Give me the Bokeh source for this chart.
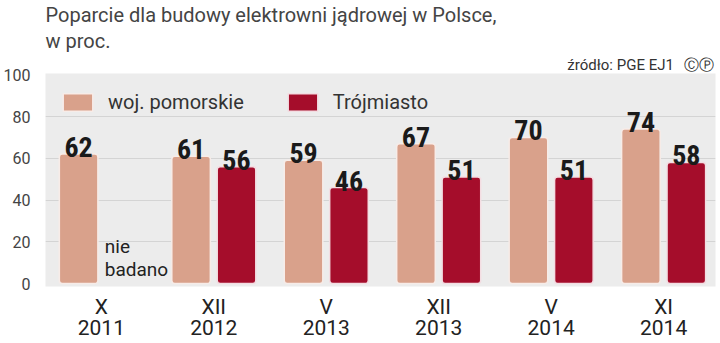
from bokeh.plotting import figure
from bokeh.models import (ColumnDataSource, FixedTicker, Legend, LegendItem, Range1d,
                          Title, LinearAxis)
from bokeh.core.properties import value
from bokeh.embed import file_html
from bokeh.resources import INLINE

# ---- data ----
periods = ["X\n2011", "XII\n2012", "V\n2013", "XII\n2013", "V\n2014", "XI\n2014"]
pomorskie = [62, 61, 59, 67, 70, 74]
trojmiasto = [None, 56, 46, 51, 51, 58]
series_names = ["woj. pomorskie", "Trójmiasto"]
title_line1 = "Poparcie dla budowy elektrowni jądrowej w Polsce,"
title_line2 = "w proc."
source_text = "źródło: PGE EJ1"
licence_marks = "ⒸⓅ"
not_surveyed = "nie\nbadano"
y_ticks = [0, 20, 40, 60, 80, 100]

PINK = "#d9a18b"
RED = "#a50d2b"
FONT = "Roboto"
NUMFONT = "Liberation Sans Narrow, Roboto Condensed, Roboto"

W, H = 720, 343
FL, FR, FB = 37, 715, 288   # frame edges in px

xs = list(range(len(periods)))
off = 0.202
bw = 0.343
gap_px = 113.8
x0 = -0.4965
x1 = x0 + (FR - FL) / gap_px


def px_to_x(px):
    return x0 + (px - FL) / gap_px


p = figure(width=W, height=H, output_backend="svg", toolbar_location=None,
           x_range=Range1d(x0, x1), y_range=Range1d(-1.4, 100.6),
           min_border_left=FL, min_border_right=W - FR,
           min_border_top=0, min_border_bottom=H - FB)
p.outline_line_color = None
p.background_fill_color = "#ececec"
p.border_fill_color = "white"

pink_src = ColumnDataSource(dict(x=[v - off for v in xs], top=pomorskie,
                                 lab=[str(v) for v in pomorskie]))
rx = [x + off for x, v in zip(xs, trojmiasto) if v is not None]
rv = [v for v in trojmiasto if v is not None]
red_src = ColumnDataSource(dict(x=rx, top=rv, lab=[str(v) for v in rv]))

r1 = p.vbar(x="x", top="top", bottom=0, width=bw, source=pink_src, fill_color=PINK,
            line_color="#f7ece8", line_width=1.5, border_radius=3)
r2 = p.vbar(x="x", top="top", bottom=0, width=bw, source=red_src, fill_color=RED,
            line_color="#f3dde2", line_width=1.5, border_radius=3)

for src in (pink_src, red_src):
    p.text(x="x", y="top", text="lab", source=src, text_align="center",
           text_baseline="alphabetic", y_offset=-7, text_font=value(NUMFONT),
           text_font_style="bold", text_font_size="28px", text_color="#1a1a1a")

# "nie badano"
p.text(x=[xs[0] + off - bw / 2], y=[1.0], text=[not_surveyed], text_align="left",
       text_baseline="bottom", text_font=value(FONT), text_font_size="19px",
       text_color="#222222", text_line_height=1.0)

# axes
p.yaxis.ticker = FixedTicker(ticks=y_ticks)
p.yaxis.axis_line_color = None
p.yaxis.major_tick_line_color = None
p.yaxis.minor_tick_line_color = None
p.yaxis.major_label_standoff = 9
p.yaxis.major_label_text_font = FONT
p.yaxis.major_label_text_font_size = "16px"
p.yaxis.major_label_text_color = "#444444"

p.xaxis.ticker = FixedTicker(ticks=xs)
p.xaxis.major_label_overrides = {i: lab for i, lab in zip(xs, periods)}
p.xaxis.axis_line_color = None
p.xaxis.major_tick_line_color = None
p.xaxis.major_tick_out = 0
p.xaxis.major_tick_in = 0
p.xaxis.minor_tick_line_color = None
p.xaxis.minor_tick_out = 0
p.xaxis.major_label_standoff = 8
p.xaxis.major_label_text_font = FONT
p.xaxis.major_label_text_font_size = "21px"
p.xaxis.major_label_text_color = "#222222"
p.xaxis.major_label_text_line_height = 0.9

p.xgrid.grid_line_color = None
p.ygrid.ticker = FixedTicker(ticks=[20, 40, 60, 80])
p.ygrid.grid_line_color = "#d4d4d4"
p.ygrid.grid_line_width = 1

legend = Legend(items=[LegendItem(label=series_names[0], renderers=[r1]),
                       LegendItem(label=series_names[1], renderers=[r2])],
                orientation="horizontal", location=(14, 172))
legend.margin = 0
legend.padding = 12
legend.spacing = 40
legend.glyph_width = 37
legend.glyph_height = 22
legend.label_standoff = 12
legend.label_text_font = FONT
legend.label_text_font_size = "20px"
legend.label_text_color = "#333333"
legend.background_fill_alpha = 0
legend.border_line_color = None
p.add_layout(legend)

# source line: an axis above the frame carrying the source text as tick labels
src_axis = LinearAxis(ticker=FixedTicker(ticks=[px_to_x(619), px_to_x(698)]))
src_axis.major_label_overrides = {px_to_x(619): source_text, px_to_x(698): licence_marks}
src_axis.axis_line_color = None
src_axis.major_tick_line_color = None
src_axis.major_tick_out = 0
src_axis.major_tick_in = 0
src_axis.minor_tick_line_color = None
src_axis.minor_tick_out = 0
src_axis.major_label_standoff = 0
src_axis.major_label_text_font = FONT
src_axis.major_label_text_font_size = "15px"
src_axis.major_label_text_color = "#333333"
src_axis.major_label_text_line_height = 0.8
p.add_layout(src_axis, "above")

p.add_layout(Title(text=title_line2, align="left", text_font=FONT, text_font_size="20px",
                   text_font_style="normal", text_color="#444444", standoff=0,
                   text_line_height=0.9), "above")
p.add_layout(Title(text=title_line1, align="left", text_font=FONT, text_font_size="20px",
                   text_font_style="normal", text_color="#444444", standoff=0,
                   text_line_height=0.9), "above")

open("out.html", "w").write(file_html(p, INLINE))
